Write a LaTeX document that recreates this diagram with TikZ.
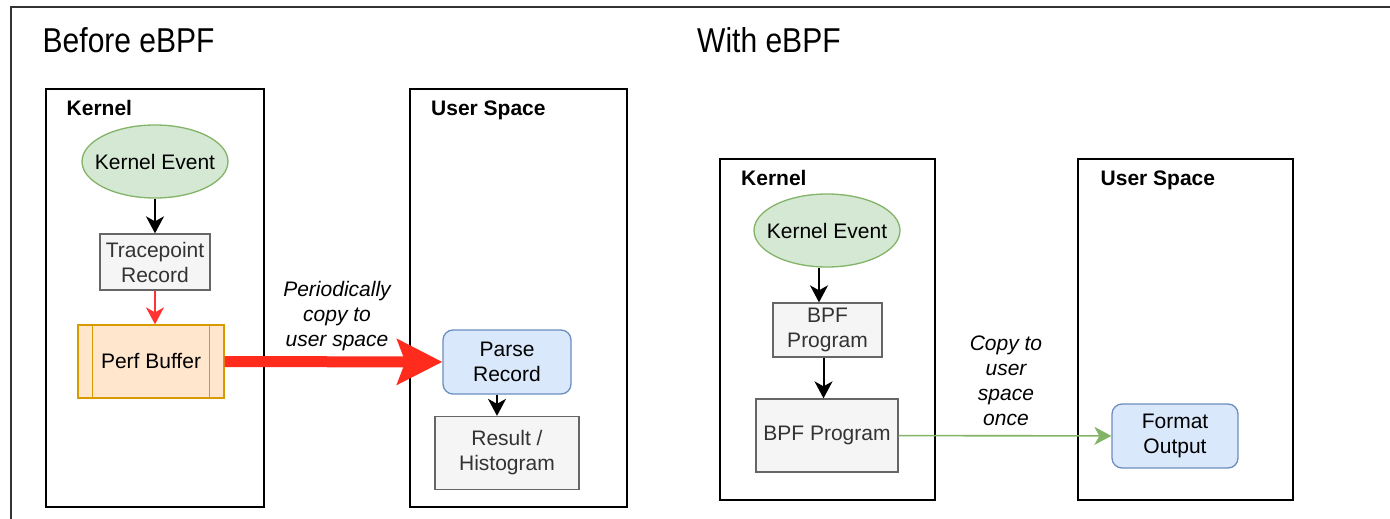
\documentclass[tikz,border=0pt]{standalone}
\usepackage{fontspec}
\setmainfont{Liberation Sans}
\newfontfamily\ttlfont[FakeStretch=0.87]{Liberation Sans}
\usetikzlibrary{shapes.geometric,arrows.meta}
\definecolor{evfill}{HTML}{D5E8D4}
\definecolor{evstroke}{HTML}{82B366}
\definecolor{gfill}{HTML}{F5F5F5}
\definecolor{gstroke}{HTML}{666666}
\definecolor{gtext}{HTML}{333333}
\definecolor{bfill}{HTML}{DAE8FC}
\definecolor{bstroke}{HTML}{6C8EBF}
\definecolor{ofill}{HTML}{FFE6CC}
\definecolor{ostroke}{HTML}{D79B00}
\definecolor{redc}{HTML}{FF2B1C}
\definecolor{redthin}{HTML}{FF3333}
\definecolor{framec}{HTML}{333333}
\begin{document}
\begin{tikzpicture}[x=1pt,y=-1pt,
  fs/.style={font=\fontsize{21}{25}\selectfont},
  panel/.style={draw=black,line width=1.7pt},
  lbl/.style={anchor=base west,inner sep=0,font=\bfseries\fontsize{21}{25}\selectfont},
  ttl/.style={anchor=base west,inner sep=0,font=\ttlfont\fontsize{34.5}{40}\selectfont},
  ev/.style={ellipse,draw=evstroke,fill=evfill,line width=1.3pt,inner sep=0,fs,minimum width=146pt,minimum height=73pt},
  gbox/.style={draw=gstroke,fill=gfill,text=gtext,line width=1.3pt,inner sep=0,align=center,fs},
  bbox/.style={draw=bstroke,fill=bfill,rounded corners=10pt,line width=1.3pt,inner sep=0,align=center,fs},
  obox/.style={draw=ostroke,fill=ofill,line width=1.3pt,inner sep=0,fs},
  note/.style={font=\itshape\fontsize{21}{25}\selectfont,align=center,inner sep=0},
  tip/.style={-{Stealth[length=17pt,width=18pt,inset=5pt]}},
  arr/.style={draw=black,line width=2pt,tip},
]
\useasboundingbox (0,0) rectangle (1390,519);
% outer frame (cropped)
\draw[framec,line width=1.3pt] (1390,7) -- (11,7) -- (11,519);

% titles
\node[ttl] (t1) at (42.5,52.5) {Before eBPF};
\node[ttl] (t2) at (697,52.5) {With eBPF};

% panels
\draw[panel] (46,89) rectangle (264,507);
\draw[panel] (410,89) rectangle (627,507);
\draw[panel] (720,159) rectangle (935,500);
\draw[panel] (1078,159) rectangle (1293,500);
\node[lbl] (k1) at (66.5,115) {Kernel};
\node[lbl] (u1) at (431,115) {User Space};
\node[lbl] (k2) at (741,185) {Kernel};
\node[lbl] (u2) at (1100.5,185) {User Space};

% left nodes
\node[ev] (ke1) at (155,161.5) {\makebox[0pt]{Kernel Event}};
\node[gbox,minimum width=110pt,minimum height=56pt] (tr) at (155,262) {Tracepoint\\Record};
\node[obox,minimum width=146pt,minimum height=73pt] (pb) at (151,361.5) {Perf Buffer};
\draw[ostroke,line width=1.3pt] ([xshift=15pt]pb.north west) -- ([xshift=15pt]pb.south west);
\draw[ostroke,line width=1.3pt] ([xshift=-15pt]pb.north east) -- ([xshift=-15pt]pb.south east);
\node[bbox,minimum width=128pt,minimum height=64pt] (pr) at (507,362) {Parse\\Record};
\node[gbox,minimum width=144pt,minimum height=73pt] (res) at (507,453) {Result /\\Histogram};

% right nodes
\node[ev] (ke2) at (827,230.5) {\makebox[0pt]{Kernel Event}};
\node[gbox,minimum width=109pt,minimum height=54pt] (bp1) at (827.5,330) {BPF\\Program};
\node[gbox,minimum width=142pt,minimum height=73pt] (bp2) at (827,435.5) {BPF Program};
\node[bbox,minimum width=126pt,minimum height=64pt] (fo) at (1175,436) {Format\\Output};

% connectors
\draw[arr] (ke1) -- (tr);
\draw[redthin,line width=1.5pt,tip] (tr.south) -- (tr.south |- pb.north);
\draw[redc,line width=11pt,-{Stealth[length=45pt,width=45pt,inset=8pt]}] (pb) -- (pr);
\draw[arr] ([xshift=-10pt]pr.south) -- ([xshift=-10pt]pr.south |- res.north);
\draw[arr] ([xshift=-8pt]ke2.south) -- ([xshift=-8pt]ke2.south |- bp1.north);
\draw[arr] ([xshift=-4pt]bp1.south) -- ([xshift=-4pt]bp1.south |- bp2.north);
\draw[evstroke,line width=1.6pt,tip] (bp2) -- (fo);

% notes
\node[note] (n1) at (337,316) {Periodically\\copy to\\user space};
\node[note] (n2) at (1006,381) {Copy to\\user\\space\\once};
\end{tikzpicture}
\end{document}
